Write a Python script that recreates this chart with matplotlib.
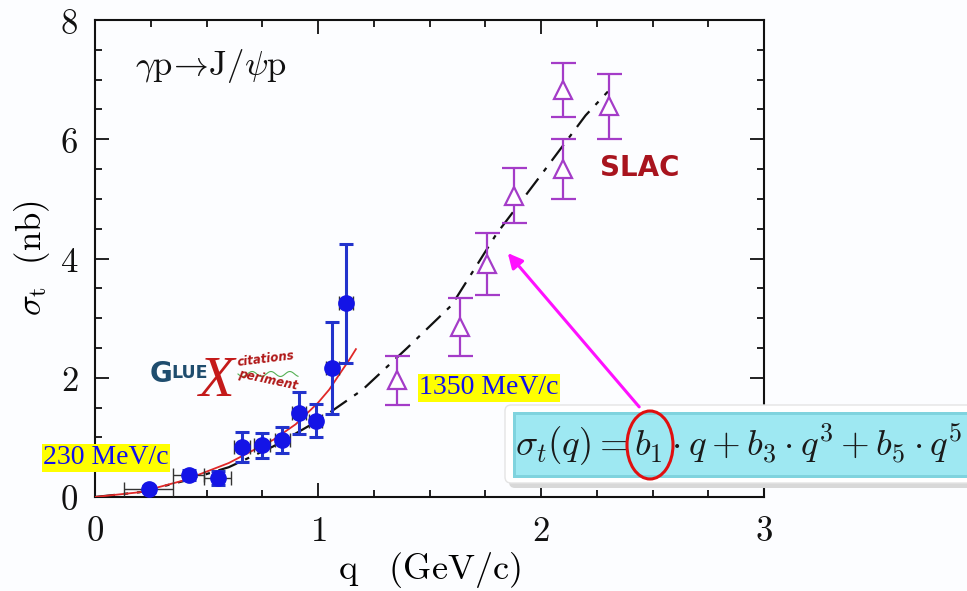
import numpy as np
import matplotlib
matplotlib.use("Agg")
import matplotlib.pyplot as plt
from matplotlib.patches import FancyBboxPatch, Ellipse, FancyArrowPatch, Rectangle

plt.rcParams['mathtext.fontset'] = 'cm'
plt.rcParams['font.family'] = ['DejaVu Sans']

# ---- data ----
gluex_q = [0.24, 0.42, 0.55, 0.66, 0.75, 0.84, 0.915, 0.99, 1.065, 1.125]
gluex_sig = [0.13, 0.37, 0.32, 0.84, 0.87, 0.96, 1.41, 1.28, 2.16, 3.25]
gluex_yerr = [0.05, 0.08, 0.12, 0.25, 0.21, 0.22, 0.35, 0.28, 0.77, 1.00]
gluex_xerr = [0.11, 0.07, 0.06, 0.035, 0.035, 0.035, 0.03, 0.03, 0.03, 0.03]

slac_q = [1.354, 1.637, 1.758, 1.88, 2.10, 2.10, 2.305]
slac_sig = [1.96, 2.85, 3.90, 5.05, 5.50, 6.83, 6.55]
slac_yerr = [0.41, 0.48, 0.52, 0.46, 0.50, 0.45, 0.54]

fit_red_q = [0.0, 0.2, 0.4, 0.6, 0.8, 0.9, 1.0, 1.05, 1.1, 1.14, 1.17]
fit_red_sig = [0.0, 0.08, 0.28, 0.57, 0.96, 1.22, 1.58, 1.80, 2.08, 2.30, 2.48]

fit_blk_q = [0.0, 0.2, 0.4, 0.6, 0.8, 1.0, 1.2, 1.4, 1.6, 1.8, 2.0, 2.2, 2.3]
fit_blk_sig = [0.0, 0.08, 0.27, 0.50, 0.85, 1.28, 1.80, 2.50, 3.22, 4.41, 5.40, 6.40, 6.80]

xticks = [0, 1, 2, 3]
yticks = [0, 2, 4, 6, 8]

W, H = 967, 591
fig = plt.figure(figsize=(W / 100, H / 100), dpi=100)
fig.patch.set_facecolor('#fcfdff')

ax = fig.add_axes([95 / W, (H - 497) / H, (764 - 95) / W, (497 - 20) / H])
ax.set_facecolor('#fcfdff')
ax.set_xlim(0, 3)
ax.set_ylim(0, 8)

ax.set_xticks(xticks)
ax.set_xticklabels([f'${t}$' for t in xticks], fontsize=25)
ax.set_yticks(yticks)
ax.set_yticklabels([f'${t}$' for t in yticks], fontsize=25)
ax.set_xticks(np.arange(0, 3.01, 0.25), minor=True)
ax.set_yticks(np.arange(0, 8.01, 0.5), minor=True)
ax.tick_params(which='both', direction='in', top=True, right=True, width=1.3, colors='#111111')
ax.tick_params(which='major', length=10, pad=12)
ax.tick_params(which='minor', length=5)
for s in ax.spines.values():
    s.set_linewidth(1.5)
    s.set_color('#111111')

ax.set_xlabel(r'$\mathrm{q\ \ \ (GeV/c)}$', fontsize=26, labelpad=2)
ax.set_ylabel(r'$\sigma_{\rm t}\ \ (\rm nb)$', fontsize=25, labelpad=6)

# curves
ax.plot(fit_blk_q, fit_blk_sig, color='#111111', lw=1.6, ls=(0, (9, 4, 2, 4)), zorder=2)
ax.plot(fit_red_q, fit_red_sig, color='#e02828', lw=1.3, zorder=3)

# GlueX data
ax.errorbar(gluex_q, gluex_sig, xerr=gluex_xerr, fmt='none', ecolor='#333333', elinewidth=1.0,
            capsize=5, capthick=1.0, zorder=4)
ax.errorbar(gluex_q, gluex_sig, yerr=gluex_yerr, fmt='o', color='#1414e6', ms=11,
            ecolor='#2233cc', elinewidth=2.2, capsize=5, capthick=2.2, zorder=5)

# SLAC data
ax.errorbar(slac_q, slac_sig, yerr=slac_yerr, fmt='^', color='#a43cc8', mfc='white',
            mec='#a43cc8', ms=13, mew=1.6, elinewidth=1.6, capsize=9, capthick=1.6, zorder=5)

ax.text(0.18, 7.08, r'$\gamma\mathrm{p}\!\rightarrow\!\mathrm{J}/\psi\mathrm{p}$', fontsize=25,
        color='#111111')

# ---- overlay (pixel coords) ----
ov = fig.add_axes([0, 0, 1, 1], facecolor='none')
ov.set_xlim(0, W)
ov.set_ylim(H, 0)
ov.axis('off')

# energy labels
ov.text(43, 458, '230 MeV/c', fontsize=20, color='#1010ee', family='Liberation Serif',
        va='center', ha='left',
        bbox=dict(boxstyle='square,pad=0.05', fc='#ffff00', ec='none'))
ov.text(419, 388, '1350 MeV/c', fontsize=20, color='#1010ee', family='Liberation Serif',
        va='center', ha='left',
        bbox=dict(boxstyle='square,pad=0.05', fc='#ffff00', ec='none'))

# GlueX logo
ov.text(150, 382, 'G', fontsize=20, fontweight='bold', color='#1f4d6e', family='DejaVu Sans')
ov.text(171, 378, 'LUE', fontsize=12.5, fontweight='bold', color='#1f4d6e', family='DejaVu Sans')
ov.text(199, 396, 'X', fontsize=42, fontstyle='italic', color='#c41a1a', family='Liberation Serif')
ov.text(236, 366, 'citations', fontsize=8.5, fontstyle='italic', fontweight='bold',
        color='#b01818', rotation=7)
ov.text(237, 390, 'periment', fontsize=8.5, fontstyle='italic', fontweight='bold',
        color='#b01818', rotation=-12)
wx = np.linspace(238, 298, 60)
ov.plot(wx, 374 + 2.5 * np.sin((wx - 238) / 3.0), color='#55b055', lw=0.8)

# SLAC logo
ov.text(640, 168, 'SLAC', fontsize=20, fontweight='bold', color='#a8141e',
        family='DejaVu Sans', ha='center', va='center')
ov.add_line(plt.Line2D([596, 685], [165, 165], color='#fcfdff', lw=1.2))
ov.add_line(plt.Line2D([596, 685], [171, 171], color='#fcfdff', lw=1.2))

# formula box
ov.add_patch(FancyBboxPatch((509, 410), 470, 78, boxstyle='round,pad=0,rounding_size=6',
                            fc='#d8d8d8', ec='none', zorder=5))
ov.add_patch(FancyBboxPatch((505, 405), 470, 78, boxstyle='round,pad=0,rounding_size=6',
                            fc='#ffffff', ec='#e4e4e4', lw=1, zorder=6))
ov.add_patch(Rectangle((513, 412), 460, 66, fc='#7fd3de', ec='none', zorder=7))
ov.add_patch(Rectangle((516, 415), 460, 60, fc='#9ee8f2', ec='none', zorder=8))
ov.text(515, 445, r'$\sigma_t(q) = b_1\cdot q + b_3\cdot q^3 + b_5\cdot q^5$', fontsize=26.5,
        color='#1a1a1a', va='center', ha='left', zorder=9)
ov.add_patch(Ellipse((650, 445), 46, 68, fc='none', ec='#e01010', lw=2.2, zorder=10))

# arrow
ov.add_patch(FancyArrowPatch((641, 409), (506, 251), arrowstyle='-|>', mutation_scale=22,
                             color='#ff10ff', lw=2.2, zorder=10))

fig.savefig('out.png', dpi=100)
